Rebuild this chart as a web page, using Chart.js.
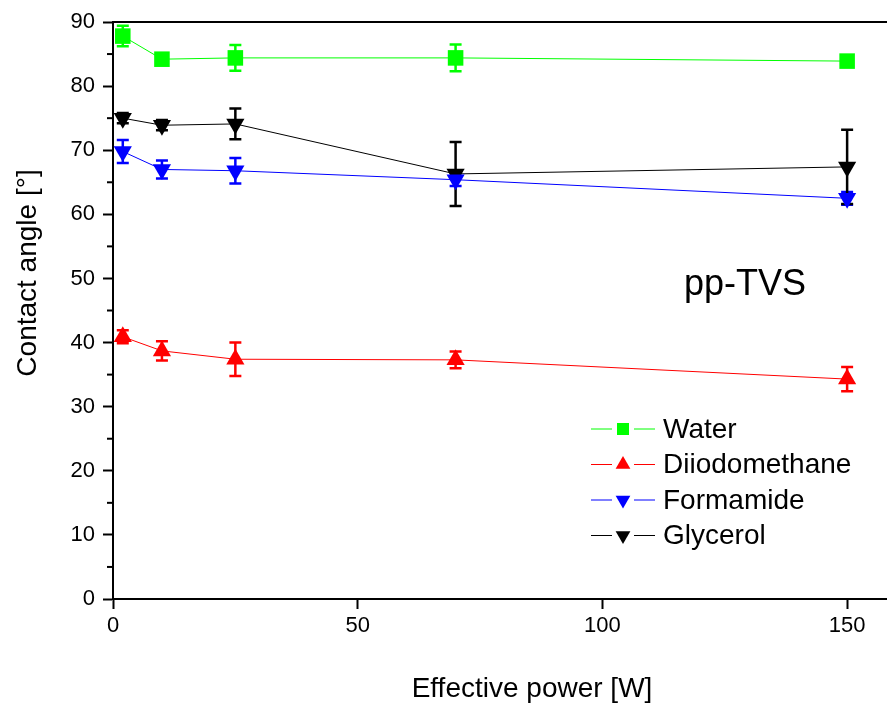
<!DOCTYPE html>
<html>
<head>
<meta charset="utf-8">
<script src="https://cdn.jsdelivr.net/npm/chart.js@4.4.1/dist/chart.umd.min.js"></script>
<style>
  html, body { margin: 0; padding: 0; background: #fff; }
  #wrap { width: 887px; height: 709px; position: relative; }
</style>
</head>
<body>
<div id="wrap"><canvas id="angleChart"></canvas></div>
<script>
// data
const power = [2, 10, 25, 70, 150];
const seriesNames = ["Water", "Diiodomethane", "Formamide", "Glycerol"];
const waterAngle = [87.8, 84.2, 84.4, 84.4, 83.9];
const waterErr = [1.6, 0.8, 2.0, 2.1, 0.6];
const diiodoAngle = [40.9, 38.7, 37.4, 37.3, 34.3];
const diiodoErr = [1.0, 1.5, 2.6, 1.3, 1.9];
const formAngle = [69.8, 67.0, 66.8, 65.4, 62.5];
const formErr = [1.8, 1.4, 2.0, 1.0, 1.0];
const glyAngle = [75.0, 73.9, 74.1, 66.3, 67.4];
const glyErr = [0.8, 0.8, 2.4, 5.0, 5.8];
const yTicks = [0, 10, 20, 30, 40, 50, 60, 70, 80, 90];
const yMinorTicks = [5, 15, 25, 35, 45, 55, 65, 75, 85];

const FONT = "'Liberation Sans', Arial, Helvetica, sans-serif";

function makeSet(label, ys, errs, color, style, rotation, radius) {
  return {
    label: label,
    data: power.map((x, i) => ({ x: x, y: ys[i] })),
    errors: errs,
    borderColor: color,
    backgroundColor: color,
    borderWidth: 1,
    pointStyle: style,
    rotation: rotation,
    pointRadius: radius,
    pointBorderWidth: 0,
    showLine: true,
    tension: 0,
  };
}

const datasets = [
  makeSet(seriesNames[0], waterAngle, waterErr, "#00ff00", "rect", 0, 11),
  makeSet(seriesNames[1], diiodoAngle, diiodoErr, "#ff0000", "triangle", 0, 10.5),
  makeSet(seriesNames[2], formAngle, formErr, "#0000ff", "triangle", 180, 10.5),
  makeSet(seriesNames[3], glyAngle, glyErr, "#000000", "triangle", 180, 10.5),
];

// error bars, frame, minor ticks, titles and legend
const decorations = {
  id: "decorations",
  beforeDatasetsDraw(chart) {
    const ctx = chart.ctx;
    const xs = chart.scales.x, ys = chart.scales.y;
    ctx.save();
    chart.data.datasets.forEach((ds) => {
      ctx.strokeStyle = ds.borderColor;
      ctx.lineWidth = 2.5;
      ds.data.forEach((p, i) => {
        const e = ds.errors[i];
        const px = xs.getPixelForValue(p.x);
        const top = ys.getPixelForValue(p.y + e);
        const bot = ys.getPixelForValue(p.y - e);
        ctx.beginPath();
        ctx.moveTo(px, top); ctx.lineTo(px, bot);
        ctx.moveTo(px - 6, top); ctx.lineTo(px + 6, top);
        ctx.moveTo(px - 6, bot); ctx.lineTo(px + 6, bot);
        ctx.stroke();
      });
    });
    ctx.restore();
  },
  afterDraw(chart) {
    const ctx = chart.ctx;
    const area = chart.chartArea;
    const ys = chart.scales.y;
    ctx.save();
    // top frame line, and the bottom axis carried on to the edge
    ctx.strokeStyle = "#000";
    ctx.lineWidth = 2;
    ctx.beginPath();
    ctx.moveTo(area.left - 1, area.top);
    ctx.lineTo(chart.width, area.top);
    ctx.moveTo(area.right - 1, area.bottom);
    ctx.lineTo(chart.width, area.bottom);
    ctx.stroke();
    // minor y ticks
    yMinorTicks.forEach((v) => {
      const py = ys.getPixelForValue(v);
      ctx.beginPath();
      ctx.moveTo(area.left - 6, py);
      ctx.lineTo(area.left, py);
      ctx.stroke();
    });

    ctx.fillStyle = "#000";
    ctx.font = "28px " + FONT;
    ctx.textAlign = "center";
    ctx.textBaseline = "middle";
    // x axis title
    ctx.fillText("Effective power [W]", 532, 689);
    // y axis title
    ctx.save();
    ctx.translate(28, 273);
    ctx.rotate(-Math.PI / 2);
    ctx.fillText("Contact angle [°]", 0, 0);
    ctx.restore();
    // sample label
    ctx.font = "36px " + FONT;
    ctx.textAlign = "left";
    ctx.fillText("pp-TVS", 684, 285);

    // legend: line - marker - line - text
    ctx.font = "28px " + FONT;
    chart.data.datasets.forEach((ds, i) => {
      const ly = 429 + i * 35.5;
      ctx.strokeStyle = ds.borderColor;
      ctx.lineWidth = 1;
      ctx.beginPath();
      ctx.moveTo(591, ly); ctx.lineTo(612, ly);
      ctx.moveTo(634, ly); ctx.lineTo(655, ly);
      ctx.stroke();
      ctx.fillStyle = ds.backgroundColor;
      Chart.helpers.drawPoint(ctx, {
        pointStyle: ds.pointStyle, rotation: ds.rotation, radius: 8.5, borderWidth: 0,
      }, 623, ly);
      ctx.fillStyle = "#000";
      ctx.fillText(ds.label, 663, ly + 1);
    });
    ctx.restore();
  },
};

new Chart(document.getElementById("angleChart"), {
  type: "scatter",
  data: { datasets: datasets },
  plugins: [decorations],
  options: {
    responsive: true,
    maintainAspectRatio: false,
    animation: false,
    layout: { padding: { top: 22, right: 0, left: 0, bottom: 0 } },
    plugins: {
      legend: { display: false },
      tooltip: { enabled: false },
    },
    scales: {
      x: {
        type: "linear",
        min: 0,
        max: 155.9,
        afterFit: (s) => { s.height = 110; },
        border: { display: true, color: "#000", width: 2 },
        grid: { display: true, drawOnChartArea: false, drawTicks: true, tickLength: 10, tickColor: "#000", tickWidth: 2 },
        ticks: { stepSize: 50, includeBounds: false, color: "#000", padding: 4, maxRotation: 0, font: { size: 22, family: FONT } },
      },
      y: {
        type: "linear",
        min: 0,
        max: 90,
        afterFit: (s) => { s.width = 113; },
        afterBuildTicks: (s) => { s.ticks = yTicks.map((v) => ({ value: v })); },
        border: { display: true, color: "#000", width: 2 },
        grid: { display: true, drawOnChartArea: false, drawTicks: true, tickLength: 10, tickColor: "#000", tickWidth: 2 },
        ticks: { color: "#000", padding: 8, font: { size: 22, family: FONT } },
      },
    },
  },
});
</script>
</body>
</html>
